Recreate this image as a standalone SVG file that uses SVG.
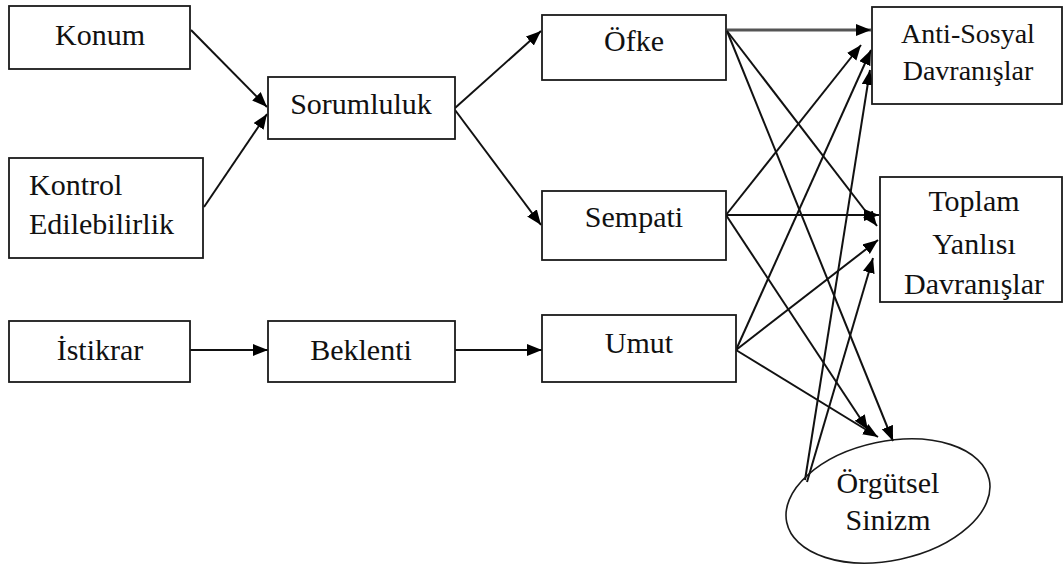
<svg xmlns="http://www.w3.org/2000/svg" width="1063" height="565" viewBox="0 0 1063 565">
<style>
.box{fill:#fff;stroke:#1a1a1a;stroke-width:1.8}
.t{font-family:'Liberation Serif','Tinos','Times New Roman','DejaVu Serif',serif;font-size:30px;fill:#111;text-anchor:middle}
.ts{font-size:28px}
.l{text-anchor:start}
.e{fill:none;stroke:#111;stroke-width:2;marker-end:url(#ah)}
</style>
<defs>
<marker id="ah" markerUnits="userSpaceOnUse" markerWidth="16" markerHeight="13" refX="15" refY="6" orient="auto">
<path d="M0,0 L15,6 L0,12 z" fill="#000"/>
</marker>
</defs>
<rect width="1063" height="565" fill="#fff"/>
<g id="connectors">
<line class="e" x1="191" y1="30" x2="267" y2="107"/>
<line class="e" x1="204" y1="207" x2="267" y2="114"/>
<line class="e" x1="455" y1="108" x2="541" y2="31"/>
<line class="e" x1="455" y1="110" x2="541" y2="225"/>
<line class="e" x1="190" y1="350" x2="268" y2="350"/>
<line class="e" x1="455" y1="350" x2="542" y2="350"/>
<line class="e" x1="727" y1="30" x2="871" y2="30" style="stroke:#555;stroke-width:2.8"/>
<line class="e" x1="727" y1="31" x2="877" y2="226"/>
<line class="e" x1="727" y1="31" x2="893" y2="441"/>
<line class="e" x1="726" y1="215" x2="861" y2="45"/>
<line class="e" x1="726" y1="215" x2="879" y2="215"/>
<line class="e" x1="726" y1="215" x2="868" y2="430"/>
<line class="e" x1="736" y1="350" x2="871" y2="50"/>
<line class="e" x1="736" y1="350" x2="878" y2="240"/>
<line class="e" x1="736" y1="350" x2="878" y2="437"/>
<line class="e" x1="805" y1="480" x2="870" y2="70"/>
<line class="e" x1="807" y1="482" x2="873" y2="258"/>
</g>
<g id="konum"><rect class="box" x="9" y="6" width="181" height="63"/><text class="t" x="100" y="45">Konum</text></g>
<g id="kontrol"><rect class="box" x="9" y="158" width="194" height="100"/><text class="t l" x="29" y="195">Kontrol</text><text class="t l" x="29" y="234">Edilebilirlik</text></g>
<g id="istikrar"><rect class="box" x="9" y="321" width="181" height="61"/><text class="t" x="100" y="360">İstikrar</text></g>
<g id="sorumluluk"><rect class="box" x="268" y="77" width="187" height="62"/><text class="t" x="361" y="114">Sorumluluk</text></g>
<g id="beklenti"><rect class="box" x="268" y="321" width="187" height="61"/><text class="t" x="361" y="360">Beklenti</text></g>
<g id="ofke"><rect class="box" x="542" y="15" width="184" height="65"/><text class="t" x="634" y="51">Öfke</text></g>
<g id="sempati"><rect class="box" x="542" y="191" width="184" height="69"/><text class="t" x="634" y="227">Sempati</text></g>
<g id="umut"><rect class="box" x="542" y="315" width="194" height="67"/><text class="t" x="639" y="353">Umut</text></g>
<g id="antisosyal"><rect class="box" x="872" y="7" width="190" height="97"/><text class="t ts" x="968" y="43">Anti-Sosyal</text><text class="t ts" x="968" y="80">Davranışlar</text></g>
<g id="toplam"><rect class="box" x="880" y="177" width="182" height="125"/><text class="t" x="974" y="211">Toplam</text><text class="t" x="974" y="254">Yanlısı</text><text class="t" x="974" y="294">Davranışlar</text></g>
<g id="orgutsel"><ellipse cx="888" cy="501" rx="103.5" ry="59.5" transform="rotate(-12 888 501)" fill="none" stroke="#1a1a1a" stroke-width="1.6"/><text class="t" x="888" y="493">Örgütsel</text><text class="t" x="888" y="530">Sinizm</text></g>
</svg>
